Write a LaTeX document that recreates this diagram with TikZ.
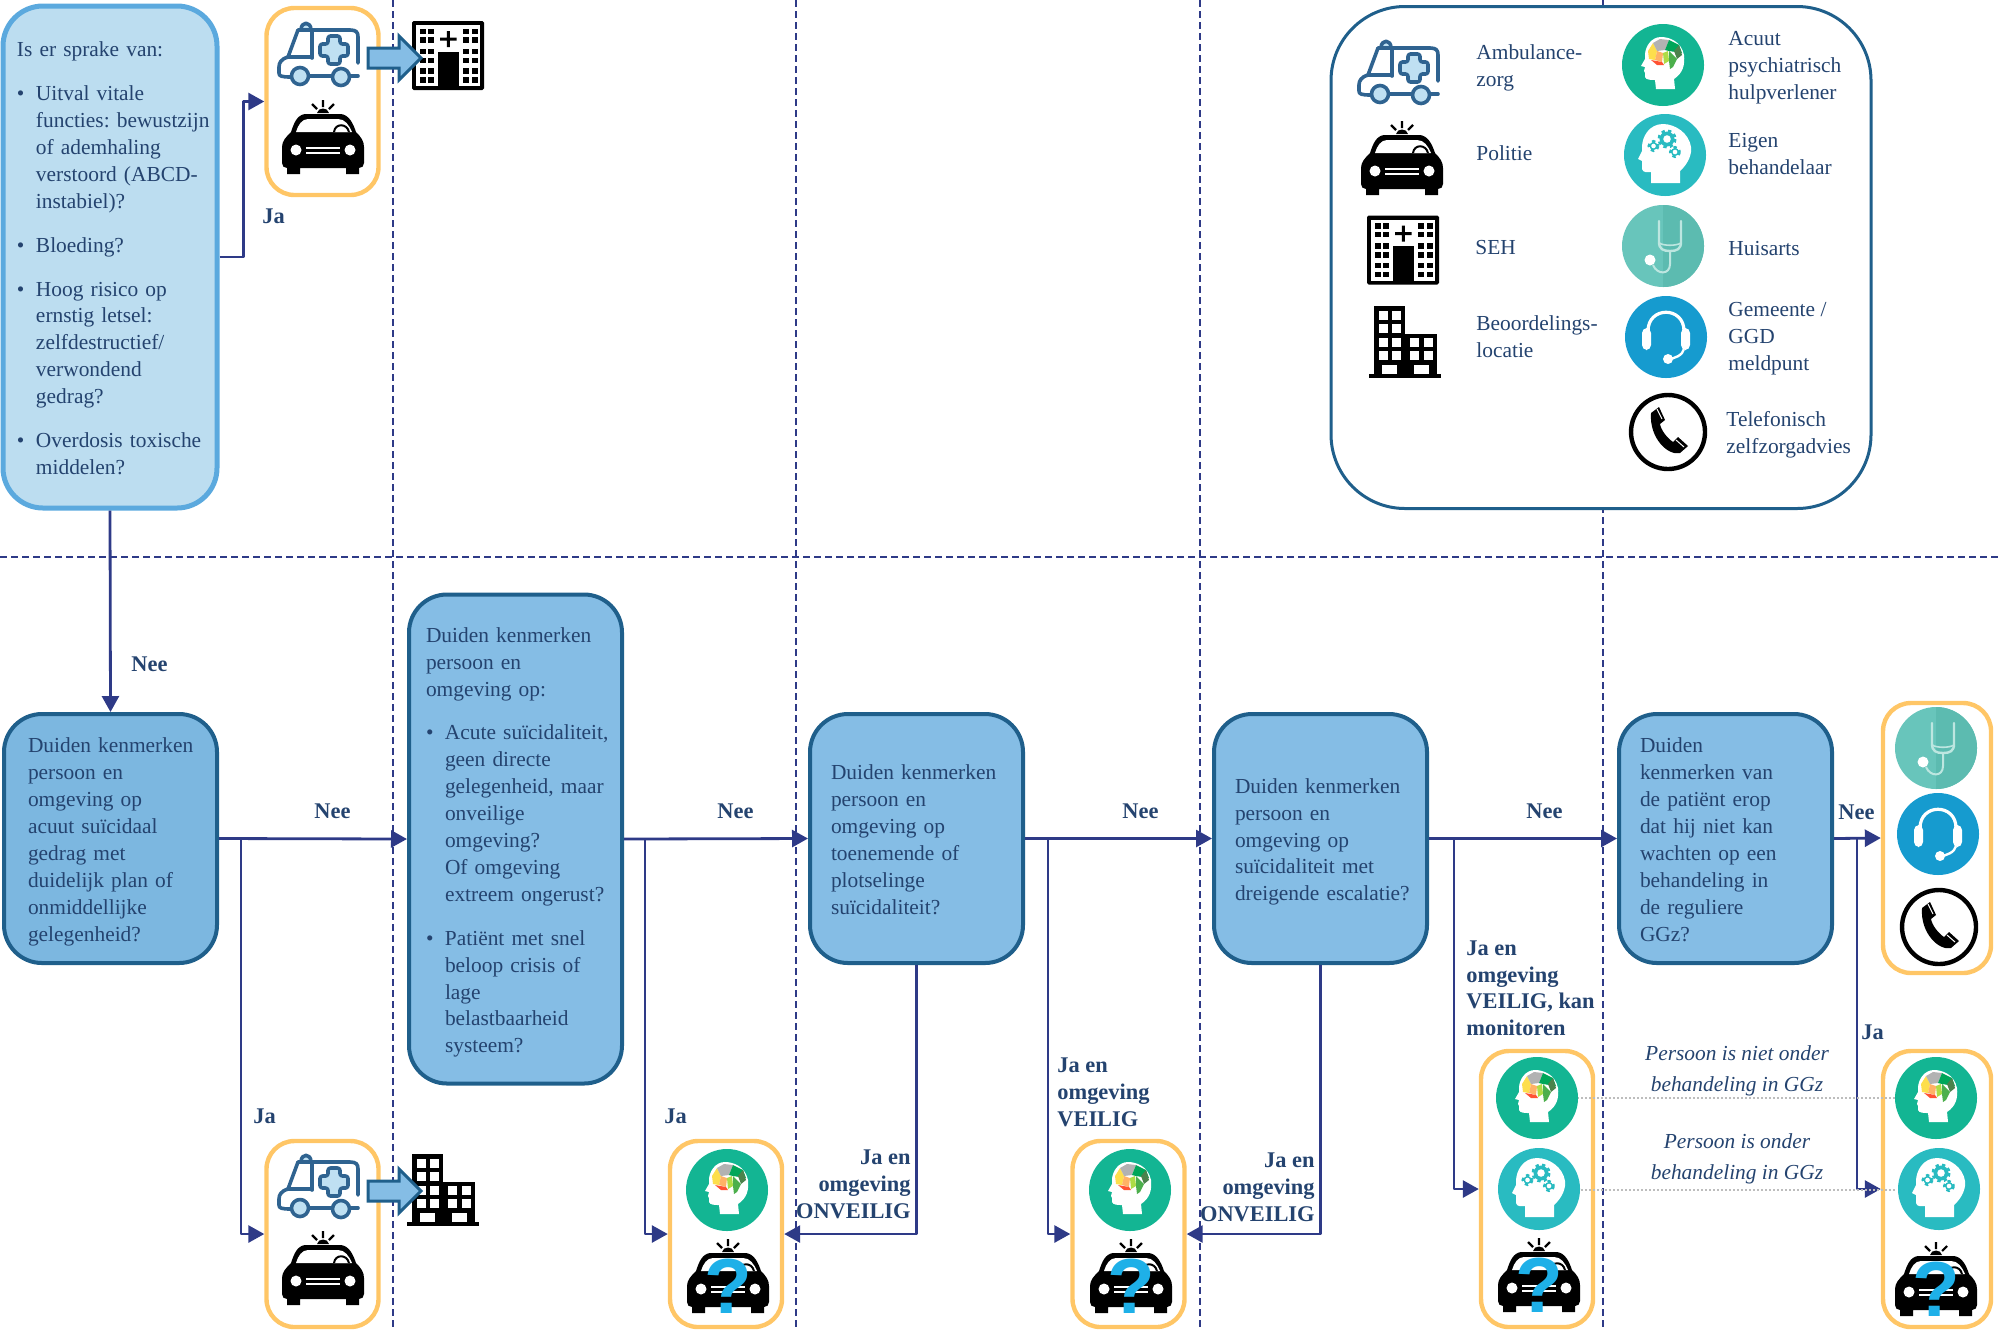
\documentclass[tikz,border=0pt]{standalone}
\usepackage{fontspec}
\setmainfont{Liberation Serif}
\newfontfamily\qfont{Liberation Sans}
\usetikzlibrary{arrows.meta}
\definecolor{textc}{HTML}{24436F}
\definecolor{flowc}{HTML}{2E3A87}
\definecolor{edgec}{HTML}{1F5F8B}
\definecolor{paleb}{HTML}{BCDDF0}
\definecolor{paleedge}{HTML}{5BA9DE}
\definecolor{midb}{HTML}{85BDE5}
\definecolor{midb2}{HTML}{7CB7E0}
\definecolor{orangec}{HTML}{FFC666}
\definecolor{ambc}{HTML}{2F6390}
\definecolor{amblight}{HTML}{BFE0F2}
\definecolor{greenc}{HTML}{13B593}
\definecolor{tealc}{HTML}{29BBC1}
\definecolor{stA}{HTML}{68C5BB}
\definecolor{stB}{HTML}{5CBBB0}
\definecolor{stL}{HTML}{BDE6E0}
\definecolor{headc}{HTML}{169BCF}
\definecolor{qc}{HTML}{1EB0E8}
\definecolor{dotc}{HTML}{BDBDBD}
\newcommand\bul{\makebox[9.5pt][l]{\textbullet}}
\newcommand\ind{\hspace*{9.5pt}}
\newcommand\gearicon[3]{%
  \draw[tealc,line width=1.5pt,dash pattern=on 1.6pt off 1.6pt] (#1,#2) circle (#3-1);
  \fill[tealc] (#1,#2) circle (#3-1.5);
  \fill[white] (#1,#2) circle (#3*0.42);}
\tikzset{
  para/.style={inner sep=0,anchor=west,align=left,text=textc,yshift=-1.6pt,
    font=\frenchspacing\fontsize{10.7}{13.45}\selectfont,
    execute at begin node=\strut,execute at end node=\strut},
  paraC/.style={para,anchor=center,align=center,font=\frenchspacing\fontsize{10.7}{15.5}\selectfont\itshape},
  lab/.style={para,font=\frenchspacing\fontsize{11.2}{13.45}\selectfont\bfseries},
  labR/.style={lab,anchor=east,align=right},
  tbox/.style={draw=edgec,line width=2pt,fill=midb,rounded corners=19pt,
    minimum width=106.5pt,minimum height=124.5pt,inner xsep=0,inner ysep=0,
    text width=106.5pt,align=left,text=textc,
    font=\frenchspacing\fontsize{10.7}{13.45}\selectfont,
    execute at begin node={\leftskip=#1\relax\rule{0pt}{12.6pt}\strut},execute at end node=\strut},
  tbox/.default=10pt,
  obox/.style={draw=orangec,line width=2.2pt,rounded corners=14pt,minimum width=56pt},
  flow/.style={draw=flowc,line width=1.4pt,line join=round,-{Triangle[length=8pt,width=8.5pt]}},
  sep/.style={draw=flowc,line width=1pt,dash pattern=on 3.5pt off 2pt},
  dotl/.style={draw=dotc,line width=1pt,dash pattern=on 1pt off 1pt},
  pics/amb/.style={code={
    \begin{scope}[draw=ambc,line width=1.8pt,line cap=round,line join=round]
      \draw (-21,-25) -- (31,-25) .. controls (37,-25) and (39,-23) .. (39,-18) -- (39,8);
      \draw (-7,-25) -- (-7,3);
      \draw (-21,-25) -- (-31,2) -- (-7,2);
      \draw (-31,2) .. controls (-38,4) and (-40,8) .. (-40,12) -- (-40,18) .. controls (-40,21) and (-38,22) .. (-28,22);
      \draw (-10,21) -- (13,21);
      \draw (31,21) -- (39,21);
      \draw[fill=amblight] (-19,21) circle (8.5);
      \draw[fill=amblight] (22,22) circle (8.5);
      \draw[fill=amblight] (-18,-25) .. controls (-18,-34) and (-8,-34) .. (-8,-25) -- cycle;
      \draw[fill=amblight,rounded corners=1.2pt] (9,-19) -- (21,-19) -- (21,-11) -- (29,-11) -- (29,1) -- (21,1) -- (21,9) -- (9,9) -- (9,1) -- (1,1) -- (1,-11) -- (9,-11) -- cycle;
    \end{scope}}},
  pics/policecar/.style={code={
    \fill[black] (-6,-24) .. controls (-5,-30) and (5,-30) .. (6,-24) -- cycle;
    \draw[black,line width=1.1pt] (0,-37) -- (0,-30) (-11,-33) -- (-6,-28) (11,-33) -- (6,-28);
    \fill[black] (-32,-5) .. controls (-29,-14) and (-26,-22) .. (-18,-23) -- (18,-23) .. controls (26,-22) and (30,-14) .. (33,-5)
      .. controls (38,0) and (41,4) .. (41,10) -- (41,26) .. controls (41,29) and (39,31) .. (36,31) -- (36,37) -- (23,37) -- (23,31) -- (-23,31) -- (-23,37) -- (-36,37) -- (-36,31) .. controls (-39,31) and (-41,29) .. (-41,26) -- (-41,10) .. controls (-41,4) and (-37,0) .. (-32,-5) -- cycle;
    \fill[white] (-27,-5) .. controls (-25,-12) and (-21,-18) .. (-15,-18) -- (15,-18) .. controls (22,-18) and (26,-12) .. (29,-5) -- cycle;
    \draw[black,line width=1pt,fill=white] (11,-5) .. controls (12,-14) and (24,-14) .. (26,-5);
    \fill[white] (-27,13) circle (5.5);
    \fill[white] (27,13) circle (5.5);
    \draw[white,line width=.9pt] (-17,11) -- (17,11) (-17,16) -- (17,16);}},
  pics/policeq/.style={code={
    \pic {policecar};
    \node[inner sep=0,text=qc,font=\qfont\fontsize{39}{39}\selectfont\bfseries] (q) at (0,10) {?};}},
  pics/hosp/.style={code={
    \fill[black,rounded corners=.8pt] (-36,-34.5) rectangle (36,34.5);
    \fill[white] (-32,-30.5) rectangle (32,30.5);
    \foreach \xx in {-25.3,-17,18,27}{\foreach \yy in {-24,-15.5,-4,5,15.5,24.5}{
      \fill[black] (\xx-3.2,\yy-2.6) rectangle (\xx+3.2,\yy+2.6);}}
    \fill[black] (-10.3,-4) rectangle (11.3,31);
    \fill[black] (-8,-18) rectangle (8.6,-15) (-1.2,-24.5) rectangle (1.8,-8.5);}},
  pics/bldg/.style={code={
    \fill[black] (-36,32) rectangle (36,36);
    \fill[black] (-30.7,-36) rectangle (0.3,33);
    \fill[black] (0.3,-8.3) rectangle (32,33);
    \foreach \xx in {-22,-8.7}{\foreach \yy in {-26.7,-13.3,0.7,13.3}{
      \fill[white] (\xx-4.5,\yy-4.5) rectangle (\xx+4.5,\yy+4.5);}}
    \foreach \xx in {9.3,23.7}{\foreach \yy in {0.7,13.3}{
      \fill[white] (\xx-4.5,\yy-4.5) rectangle (\xx+4.5,\yy+4.5);}}
    \fill[white] (-23,22.7) rectangle (-8,31.7);
    \fill[white] (9.3,22.7) rectangle (23.7,31.7);}},
  pics/brainhead/.style={code={
    \fill[greenc] (0,0) circle (41);
    \fill[white] (12,24) -- (11,14) .. controls (20,8) and (22,0) .. (21,-10) .. controls (18,-24) and (6,-28) .. (-2,-28) .. controls (-12,-28) and (-18,-18) .. (-18,-10) -- (-18,-6) -- (-22,1) -- (-18,2) -- (-19,6) -- (-18,8) -- (-18,12) .. controls (-17,15) and (-12,15) .. (-8,15) -- (-7,24) -- cycle;
    \fill[yellow!70!orange!70!white] (-15,-14) -- (-10,-22) -- (-6,-14) -- (-8,-5) -- (-14,-6) -- cycle;
    \fill[orange!60!white] (-8,-5) -- (-6,-14) -- (0,-12) -- (-1,-3) -- cycle;
    \fill[red!70!orange!80!white] (-12,-5) -- (-1,-3) -- (1,0) -- (-6,0) -- cycle;
    \fill[black!30] (-10,-22) -- (-3,-26) -- (6,-25) -- (2,-15) -- (-6,-14) -- cycle;
    \fill[yellow!60!green!80!white] (0,-12) -- (5,-14) -- (6,-4) -- (1,-1) -- cycle;
    \fill[teal!70!green] (6,-25) -- (16,-20) -- (19,-12) -- (6,-14) -- (2,-15) -- cycle;
    \fill[green!30!black!70] (16,-20) -- (19,-10) -- (14,-6) -- (11,-14) -- cycle;
    \fill[green!55!black!70] (6,-4) -- (6,-14) -- (14,-6) -- (10,2) -- (7,4) -- cycle;}},
  pics/gearhead/.style={code={
    \fill[tealc] (0,0) circle (41);
    \fill[white] (-14,28) -- (15,28) -- (15,16) .. controls (24,8) and (27,-2) .. (26,-8) .. controls (24,-22) and (10,-31) .. (-2,-31) .. controls (-16,-31) and (-23,-18) .. (-23,-8) -- (-23,-4) -- (-27,4) -- (-23,6) -- (-23,14) .. controls (-22,18) and (-18,17) .. (-14,17) -- cycle;
    \gearicon{2}{-16}{9}
    \gearicon{-11.5}{-9}{5.5}
    \gearicon{10}{-3}{5.5}}},
  pics/stetho/.style={code={
    \fill[stA] (0,0) circle (41);
    \begin{scope}
      \clip (0,-41) rectangle (41,41);
      \fill[stB] (0,0) circle (41);
    \end{scope}
    \draw[stL,line width=1.2pt,line cap=round] (-4,-25) -- (-4,-4) .. controls (-4,3) and (0,5) .. (7,5) .. controls (14,5) and (18,3) .. (18,-4) -- (18,-25);
    \draw[stL,line width=.8pt] (-4,-3) .. controls (1,0) and (13,0) .. (18,-3);
    \draw[stL,line width=1pt] (7,5) -- (7,18) .. controls (7,29) and (-6,29) .. (-10,19);
    \fill[white] (-13,14) circle (5.5);}},
  pics/headset/.style={code={
    \fill[headc] (0,0) circle (41);
    \draw[white,line width=1.6pt] (-18,-6) .. controls (-18,-31) and (18,-31) .. (18,-6);
    \fill[white,rounded corners=2.5pt] (-24,-9) rectangle (-15,13);
    \fill[white,rounded corners=2.5pt] (15,-9) rectangle (24,13);
    \draw[white,line width=1.2pt] (18,12) .. controls (17,18) and (8,22) .. (2,22);
    \fill[white] (2,22) circle (5);}},
  pics/phonei/.style={code={
    \draw[black,line width=2.2pt,fill=white] (0,0) circle (37);
    \fill[black] (-17,-19) -- (-9,-25) -- (-3,-12) -- (-8,-8) .. controls (-7,-2) and (-1,6) .. (5,10) -- (10,5) -- (20,14) -- (12,21) .. controls (0,24) and (-19,6) .. (-17,-19) -- cycle;
    \draw[white,line width=.5pt] (-11,-23) -- (-6,-13) (8,8) -- (16,15);}}
}
\begin{document}
\begin{tikzpicture}[x=0.5pt,y=-0.5pt]
\useasboundingbox (0,0) rectangle (2000,1330);
% separators
\coordinate (s1t) at (393,0); \coordinate (s1b) at (393,1330);
\coordinate (s2t) at (796,0); \coordinate (s2b) at (796,1330);
\coordinate (s3t) at (1200,0); \coordinate (s3b) at (1200,1330);
\coordinate (s4t) at (1603,0); \coordinate (s4b) at (1603,1330);
\coordinate (s5l) at (0,557); \coordinate (s5r) at (2000,557);
\draw[sep] (s1t) -- (s1b);
\draw[sep] (s2t) -- (s2b);
\draw[sep] (s3t) -- (s3b);
\draw[sep] (s4t) -- (s4b);
\draw[sep] (s5l) -- (s5r);
% legend
\node[draw=edgec,line width=1.5pt,fill=white,rounded corners=37pt,minimum width=270pt,minimum height=251pt] (legend) at (1601,257.5) {};
\pic (la) at (1399,73) {amb};
\pic (lp) at (1402,158) {policecar};
\pic (lh) at (1403,250) {hosp};
\pic (lb) at (1405,342) {bldg};
\pic (lg1) at (1663,65) {brainhead};
\pic (lg2) at (1665,155) {gearhead};
\pic (lg3) at (1663,246) {stetho};
\pic (lg4) at (1666,337) {headset};
\pic (lg5) at (1668,432) {phonei};
\node[para] (t1) at (1476,66) {Ambulance-\\zorg};
\node[para] (t2) at (1476,152) {Politie};
\node[para] (t3) at (1475,246) {SEH};
\node[para] (t4) at (1476,337) {Beoordelings-\\locatie};
\node[para] (t5) at (1728,66) {Acuut\\psychiatrisch\\hulpverlener};
\node[para] (t6) at (1728,155) {Eigen\\behandelaar};
\node[para] (t7) at (1728,247) {Huisarts};
\node[para] (t8) at (1728,337) {Gemeente /\\GGD\\meldpunt};
\node[para] (t9) at (1726,433) {Telefonisch\\zelfzorgadvies};
% boxes
\node[tbox=7pt,draw=paleedge,fill=paleb,line width=2.5pt,rounded corners=20pt,minimum width=107pt,text width=107pt,minimum height=251pt] (tl) at (110,257) {%
Is er sprake van:\\[8.5pt]
\bul Uitval vitale\\\ind functies: bewustzijn\\\ind of ademhaling\\\ind verstoord (ABCD-\\\ind instabiel)?\\[8.5pt]
\bul Bloeding?\\[8.5pt]
\bul Hoog risico op\\\ind ernstig letsel:\\\ind zelfdestructief/\\\ind verwondend\\\ind gedrag?\\[8.5pt]
\bul Overdosis toxische\\\ind middelen?\rule[-3pt]{0pt}{3pt}};
\node[tbox=12pt,fill=midb2] (b1) at (110.5,838.5) {Duiden kenmerken\\persoon en\\omgeving op\\acuut suïcidaal\\gedrag met\\duidelijk plan of\\onmiddellijke\\gelegenheid?};
\node[tbox=8.5pt,minimum height=244.5pt] (b2) at (515.5,839) {%
Duiden kenmerken\\persoon en\\omgeving op:\\[8.5pt]
\bul Acute suïcidaliteit,\\\ind geen directe\\\ind gelegenheid, maar\\\ind onveilige\\\ind omgeving?\\\ind Of omgeving\\\ind extreem ongerust?\\[8.5pt]
\bul Patiënt met snel\\\ind beloop crisis of\\\ind lage\\\ind belastbaarheid\\\ind systeem?};
\node[tbox=10.5pt] (b3) at (916.5,838.5) {Duiden kenmerken\\persoon en\\omgeving op\\toenemende of\\plotselinge\\suïcidaliteit?};
\node[tbox=10.5pt] (b4) at (1320.5,838.5) {Duiden kenmerken\\persoon en\\omgeving op\\suïcidaliteit met\\dreigende escalatie?};
\node[tbox=10.5pt] (b5) at (1725.5,838.5) {Duiden\\kenmerken van\\de patiënt erop\\dat hij niet kan\\wachten op een\\behandeling in\\de reguliere\\GGz?};
% orange groups
\node[obox,minimum height=93.5pt] (ob1) at (322.5,101.5) {};
\node[obox,minimum height=93pt] (ob2) at (322.5,1234) {};
\node[obox,minimum height=93pt] (ob3) at (726,1234) {};
\node[obox,minimum height=93pt] (ob4) at (1128.5,1234) {};
\node[obox,minimum height=138pt] (ob5) at (1537,1189) {};
\node[obox,minimum width=54pt,minimum height=138pt] (ob6) at (1937,1189) {};
\node[obox,minimum width=54pt,minimum height=135pt] (ob7) at (1937,838) {};
% connector branch points
\coordinate (j1) at (241,839);
\coordinate (j2) at (645,839);
\coordinate (j3) at (1048,839);
\coordinate (j4) at (1454,839);
\coordinate (j5) at (1857,839);
\draw[flow] (tl.east) -- ++(24,0) |- (ob1.west);
\draw[flow] (tl.south) -- (b1.north);
\draw[flow] (b1.east) -- (b2.west);
\draw[flow] (b2.east) -- (b3.west);
\draw[flow] (b3.east) -- (b4.west);
\draw[flow] (b4.east) -- (b5.west);
\draw[flow] (b5.east) -- (ob7.west);
\draw[flow] (j1) |- (ob2.west);
\draw[flow] (j2) |- (ob3.west);
\draw[flow] (j3) |- (ob4.west);
\draw[flow] (j4) |- (ob5.west);
\draw[flow] (j5) |- (ob6.west);
\draw[flow] (b3.south) |- (ob3.east);
\draw[flow] (b4.south) |- (ob4.east);
% dotted links
\coordinate (d1a) at (1577,1098); \coordinate (d1b) at (1899,1098);
\coordinate (d2a) at (1577,1190); \coordinate (d2b) at (1897,1190);
\draw[dotl] (d1a) -- (d1b);
\draw[dotl] (d2a) -- (d2b);
% icons
\pic (i1a) at (319,55) {amb};
\pic (i1p) at (323,137) {policecar};
\pic (i1h) at (448,55.5) {hosp};
\pic (i2a) at (319,1187) {amb};
\pic (i2p) at (323,1268) {policecar};
\pic (i2b) at (443,1190) {bldg};
\pic (i3g) at (727,1190) {brainhead};
\pic (i3p) at (728,1276) {policeq};
\pic (i4g) at (1130,1190) {brainhead};
\pic (i4p) at (1131,1276) {policeq};
\pic (i5g) at (1537,1098) {brainhead};
\pic (i5t) at (1539,1189) {gearhead};
\pic (i5p) at (1539,1275) {policeq};
\pic (i6g) at (1936,1098) {brainhead};
\pic (i6t) at (1939,1189) {gearhead};
\pic (i6p) at (1936,1279) {policeq};
\pic (i7s) at (1936,748) {stetho};
\pic (i7h) at (1938,834) {headset};
\pic (i7f) at (1939,927) {phonei};
% block arrows
\foreach \bx/\by in {368/58,368/1191}{
  \draw[edgec,line width=1.5pt,fill=midb,line join=miter] (\bx,\by-10) -- (\bx+31,\by-10) -- (\bx+31,\by-22) -- (\bx+53,\by) -- (\bx+31,\by+22) -- (\bx+31,\by+10) -- (\bx,\by+10) -- cycle;}
% labels
\node[lab] (l1) at (262,215) {Ja};
\node[lab] (l2) at (131,663) {Nee};
\node[lab] (l3) at (314,810) {Nee};
\node[lab] (l4) at (717,810) {Nee};
\node[lab] (l5) at (1122,810) {Nee};
\node[lab] (l6) at (1526,810) {Nee};
\node[lab] (l7) at (1838,811) {Nee};
\node[lab] (l8) at (253,1115) {Ja};
\node[lab] (l9) at (664,1115) {Ja};
\node[labR] (l10) at (911,1185) {Ja en\\omgeving\\ONVEILIG};
\node[lab] (l11) at (1057,1093) {Ja en\\omgeving\\VEILIG};
\node[labR] (l12) at (1315,1188) {Ja en\\omgeving\\ONVEILIG};
\node[lab] (l13) at (1466,989) {Ja en\\omgeving\\VEILIG, kan\\monitoren};
\node[lab] (l14) at (1861,1031) {Ja};
\node[paraC] (c1) at (1737,1070) {Persoon is niet onder\\behandeling in GGz};
\node[paraC] (c2) at (1737,1158) {Persoon is onder\\behandeling in GGz};
\end{tikzpicture}
\end{document}
